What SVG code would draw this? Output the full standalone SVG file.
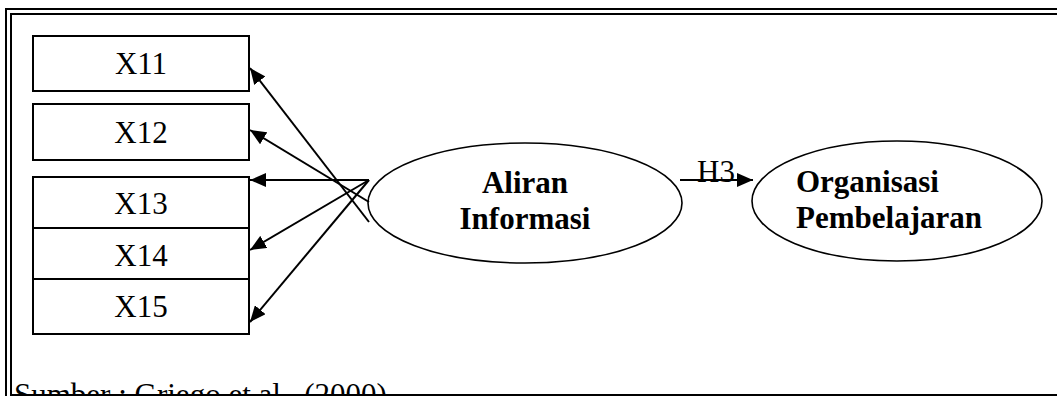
<svg xmlns="http://www.w3.org/2000/svg" width="1057" height="396" viewBox="0 0 1057 396">
  <style>
    .frame { fill: none; stroke: #000; stroke-width: 2; }
    .box { fill: #fff; stroke: #000; stroke-width: 2; }
    .oval { fill: #fff; stroke: #000; stroke-width: 1.6; }
    .lbl { font-family: "Liberation Serif", "Times New Roman", serif; font-size: 31px; fill: #000; }
    .bold { font-weight: bold; }
    .edge { stroke: #000; stroke-width: 2; fill: none; marker-end: url(#arrow); }
  </style>
  <defs>
    <marker id="arrow" markerUnits="userSpaceOnUse" markerWidth="17" markerHeight="14" refX="16" refY="7" orient="auto">
      <path d="M0,0 L16,7 L0,14 z" fill="#000"/>
    </marker>
  </defs>
  <rect width="1057" height="396" fill="#fff"/>

  <!-- double border frame (right and bottom run past the page edge) -->
  <g id="frame">
    <rect class="frame" x="6" y="9" width="1070" height="400"/>
    <rect class="frame" x="11" y="14" width="1060" height="381"/>
  </g>

  <text class="lbl" x="14" y="405">Sumber : Griego et al., (2000)</text>
  <line x1="12" y1="395" x2="1057" y2="395" stroke="#000" stroke-width="2"/>

  <!-- indicator boxes -->
  <g id="x11">
    <rect class="box" x="33" y="36" width="216" height="55"/>
    <text class="lbl" x="141" y="74" text-anchor="middle">X11</text>
  </g>
  <g id="x12">
    <rect class="box" x="33" y="104" width="216" height="56"/>
    <text class="lbl" x="141" y="143" text-anchor="middle">X12</text>
  </g>
  <g id="x13">
    <rect class="box" x="33" y="177" width="216" height="51"/>
    <text class="lbl" x="141" y="214" text-anchor="middle">X13</text>
  </g>
  <g id="x14">
    <rect class="box" x="33" y="228" width="216" height="51"/>
    <text class="lbl" x="141" y="266" text-anchor="middle">X14</text>
  </g>
  <g id="x15">
    <rect class="box" x="33" y="279" width="216" height="55"/>
    <text class="lbl" x="141" y="317" text-anchor="middle">X15</text>
  </g>

  <!-- latent constructs -->
  <g id="aliran-informasi">
    <ellipse class="oval" cx="525" cy="203" rx="157" ry="60"/>
    <text class="lbl bold" x="525" y="193" text-anchor="middle">Aliran</text>
    <text class="lbl bold" x="525" y="229" text-anchor="middle">Informasi</text>
  </g>
  <g id="organisasi-pembelajaran">
    <ellipse class="oval" cx="897" cy="201" rx="145" ry="60"/>
    <text class="lbl bold" x="796" y="192">Organisasi</text>
    <text class="lbl bold" x="796" y="228">Pembelajaran</text>
  </g>

  <!-- connectors -->
  <g id="connectors">
    <line class="edge" x1="369" y1="222" x2="250" y2="68"/>
    <line class="edge" x1="369" y1="202" x2="250" y2="130"/>
    <line class="edge" x1="369" y1="180" x2="250" y2="180"/>
    <line class="edge" x1="369" y1="180" x2="250" y2="250"/>
    <line class="edge" x1="369" y1="180" x2="250" y2="322"/>
    <text class="lbl" x="716" y="182" text-anchor="middle" font-size="30">H3</text>
    <line class="edge" x1="680" y1="180" x2="753" y2="180"/>
  </g>
</svg>
